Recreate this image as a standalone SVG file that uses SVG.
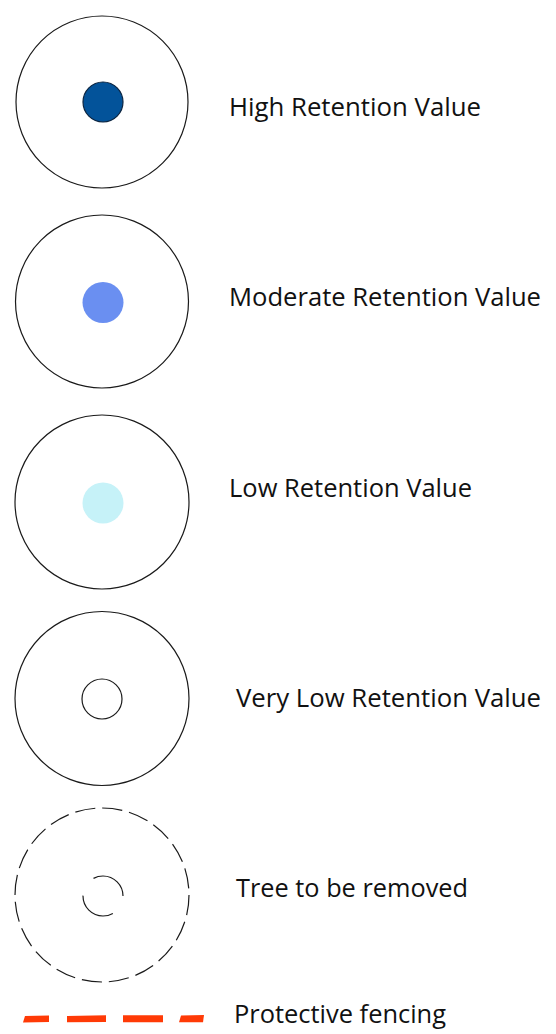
<svg xmlns="http://www.w3.org/2000/svg" width="556" height="1034" viewBox="0 0 556 1034">
  <style>
    .canopy { fill: #ffffff; stroke: #1a1a1a; stroke-width: 1.2; }
    .canopy-dash { fill: none; stroke: #1a1a1a; stroke-width: 1.2; stroke-dasharray: 20.3 7; }
    .trunk-dash { fill: none; stroke: #1a1a1a; stroke-width: 1.2; stroke-dasharray: 41.89 20.94; stroke-dashoffset: 41.89; }
    .label { font-family: "Open Sans", "Noto Sans", "DejaVu Sans", sans-serif; font-size: 25px; fill: #111111; }
    .fence { fill: #ff3a06; }
  </style>
  <rect width="556" height="1034" fill="#ffffff"/>

  <g id="high-retention">
    <circle class="canopy" cx="102" cy="102" r="86"/>
    <circle cx="103" cy="102" r="20" fill="#03539a" stroke="#0d2540" stroke-width="1.2"/>
    <text class="label" x="229" y="116" textLength="252" lengthAdjust="spacingAndGlyphs">High Retention Value</text>
  </g>

  <g id="moderate-retention">
    <circle class="canopy" cx="102" cy="301.5" r="86.5"/>
    <circle cx="103" cy="302.5" r="20.5" fill="#6a8ff1"/>
    <text class="label" x="229" y="306" textLength="312" lengthAdjust="spacingAndGlyphs">Moderate Retention Value</text>
  </g>

  <g id="low-retention">
    <circle class="canopy" cx="102" cy="502" r="87"/>
    <circle cx="103" cy="503" r="20.5" fill="#c6f2f8"/>
    <text class="label" x="229" y="497" textLength="243" lengthAdjust="spacingAndGlyphs">Low Retention Value</text>
  </g>

  <g id="very-low-retention">
    <circle class="canopy" cx="102" cy="698.5" r="87"/>
    <circle class="canopy" cx="102" cy="699" r="20"/>
    <text class="label" x="236" y="707" textLength="305" lengthAdjust="spacingAndGlyphs">Very Low Retention Value</text>
  </g>

  <g id="tree-removed">
    <circle class="canopy-dash" cx="102" cy="895" r="87"/>
    <circle class="trunk-dash" cx="103" cy="896" r="20"/>
    <text class="label" x="236" y="897" textLength="232" lengthAdjust="spacingAndGlyphs">Tree to be removed</text>
  </g>

  <g id="protective-fencing">
    <path class="fence" d="M25 1016 L49 1015.5 L49 1022 L23 1022.5 Z"/>
    <path class="fence" d="M67 1016 L106 1015.3 L106 1022 L67 1022.3 Z"/>
    <path class="fence" d="M123 1015.3 L163 1015.3 L163 1022.3 L123 1022.3 Z"/>
    <path class="fence" d="M181 1015.6 L204 1015 L203 1022.3 L179 1022.3 Z"/>
    <text class="label" x="234" y="1023" textLength="212" lengthAdjust="spacingAndGlyphs">Protective fencing</text>
  </g>
</svg>
